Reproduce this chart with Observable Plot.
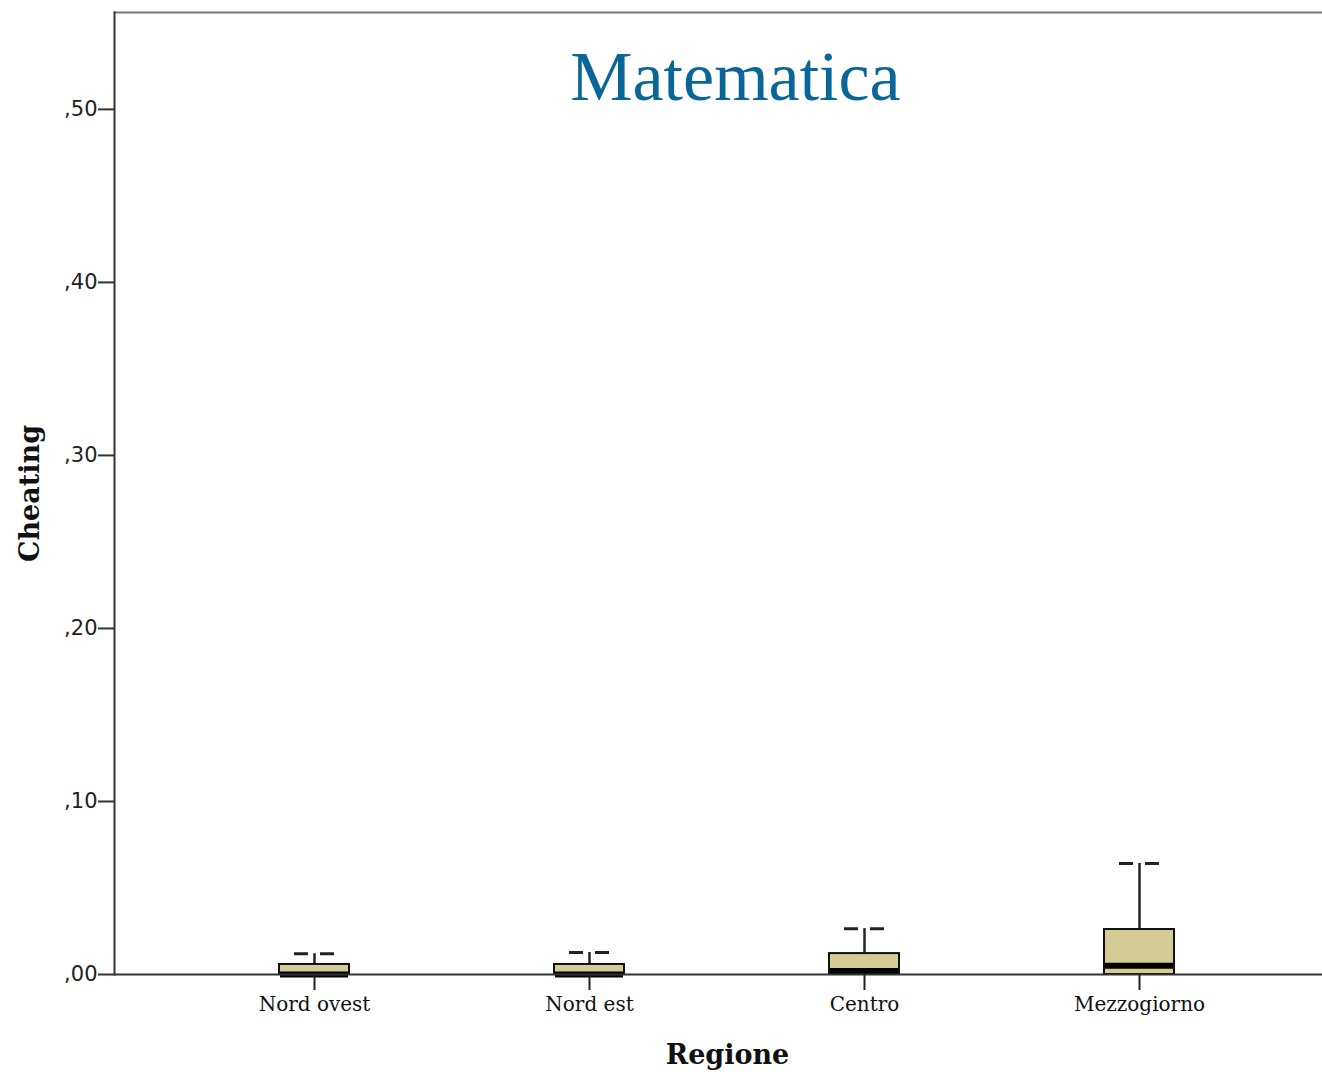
<!DOCTYPE html>
<html>
<head>
<meta charset="utf-8">
<script src="https://cdn.jsdelivr.net/npm/d3@7"></script>
<script src="https://cdn.jsdelivr.net/npm/@observablehq/plot@0.6"></script>
<style>
  html, body { margin: 0; padding: 0; background: #fff; }
  #chart svg { display: block; }
</style>
</head>
<body>
<div id="chart"></div>
<script>
const regions = ["Nord ovest", "Nord est", "Centro", "Mezzogiorno"];
const q1 =      [0.000, 0.000, 0.000, 0.000];
const median =  [0.000, 0.000, 0.002, 0.005];
const q3 =      [0.0058, 0.0058, 0.0121, 0.026];
const whiskerLo = [0.000, 0.000, 0.000, 0.000];
const whiskerHi = [0.012, 0.0127, 0.0265, 0.0642];
const yTicks = [0, 0.1, 0.2, 0.3, 0.4, 0.5];
const title = "Matematica";
const xLabel = "Regione";
const yLabel = "Cheating";

const rows = regions.map((r, i) => ({
  region: r, q1: q1[i], median: median[i], q3: q3[i], lo: whiskerLo[i], hi: whiskerHi[i]
}));

const fmt = v => d3.format(".2f")(v).replace(/^0\./, ",");

const chart = Plot.plot({
  width: 1322,
  height: 1072,
  marginLeft: 114,
  marginRight: 0,
  marginTop: 12,
  marginBottom: 98,
  style: { background: "#fff" },
  x: { type: "band", domain: regions, paddingInner: 0.746, paddingOuter: 0, insetLeft: 164, insetRight: 147 },
  y: { domain: [0, 0.556] },
  marks: [
    Plot.frame({ anchor: "top", stroke: "#777", strokeWidth: 2 }),
    Plot.frame({ anchor: "left", stroke: "#333", strokeWidth: 2 }),
    // whisker
    Plot.ruleX(rows, { x: "region", y1: "q3", y2: "hi", stroke: "#222", strokeWidth: 2.5 }),
    // box
    Plot.barY(rows, { x: "region", y1: "q1", y2: "q3", fill: "#d4cc96", stroke: "#111", strokeWidth: 2 }),
    // median
    Plot.tickY(rows, { x: "region", y: "median", stroke: "#000", strokeWidth: 6, insetLeft: 1, insetRight: 1 }),
    // caps
    Plot.tickY(rows, { x: "region", y: "hi", stroke: "#222", strokeWidth: 3, insetLeft: 15, insetRight: 15, strokeDasharray: "14,12,14" }),
    Plot.ruleY([0], { stroke: "#333", strokeWidth: 2 }),
    Plot.axisY({
      ticks: yTicks, tickFormat: fmt, tickSize: 16, tickPadding: 1,
      fontSize: 21, fontFamily: "DejaVu Sans", stroke: "#333", strokeWidth: 2, color: "#222",
      label: null
    }),
    Plot.axisX({
      tickSize: 16, tickPadding: 6, fontSize: 20, fontFamily: "DejaVu Serif",
      stroke: "#222", strokeWidth: 2, color: "#111", label: null
    }),
    Plot.text([title], { frameAnchor: "top", dx: 17, dy: 65, fontSize: 70, fontFamily: "Liberation Serif", fill: "#0a6699", lineAnchor: "middle" }),
    Plot.text([xLabel], { frameAnchor: "bottom", dx: 9, dy: 89, fontSize: 27, fontWeight: "bold", fontFamily: "DejaVu Serif", fill: "#111" }),
    Plot.text([yLabel], { frameAnchor: "left", textAnchor: "middle", dx: -84, rotate: -90, fontSize: 27, fontWeight: "bold", fontFamily: "DejaVu Serif", fill: "#111" })
  ]
});
document.getElementById("chart").appendChild(chart);
</script>
</body>
</html>
